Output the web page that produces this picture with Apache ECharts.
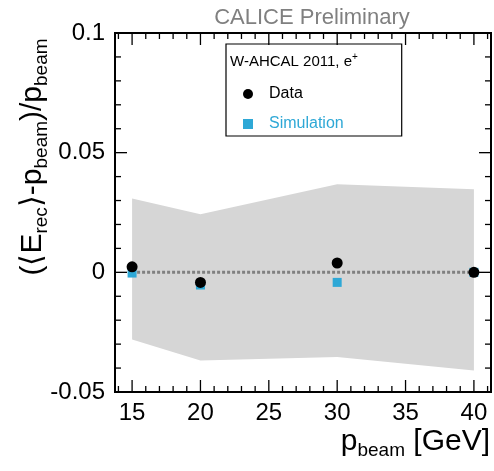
<!DOCTYPE html>
<html>
<head>
<meta charset="utf-8">
<script src="https://cdn.jsdelivr.net/npm/echarts@6/dist/echarts.min.js"></script>
<style>
html, body { margin: 0; padding: 0; background: #fff; }
#chart { width: 494px; height: 471px; }
</style>
</head>
<body>
<div id="chart"></div>
<script>
const beamMomenta = [15, 20, 30, 40];
const dataValues = [0.0023, -0.0042, 0.0039, 0.0];
const simValues = [-0.0003, -0.0053, -0.0042, 0.0];
const bandUpper = [0.0308, 0.0243, 0.0368, 0.0347];
const bandLower = [-0.0281, -0.0368, -0.0354, -0.0410];
const xRange = [13.75, 41.25];
const yRange = [-0.05, 0.1];
const xMajorTicks = [15, 20, 25, 30, 35, 40];
const xMinorTicks = [14, 16, 17, 18, 19, 21, 22, 23, 24, 26, 27, 28, 29, 31, 32, 33, 34, 36, 37, 38, 39, 41];
const yMajorTicks = [-0.05, 0, 0.05, 0.1];
const yMinorTicks = [-0.04, -0.03, -0.02, -0.01, 0.01, 0.02, 0.03, 0.04, 0.06, 0.07, 0.08, 0.09];

const FONT = "Liberation Sans";
const SIM_COLOR = "#2ea8d6";

const chart = echarts.init(document.getElementById("chart"));

// inward ticks on all four sides of the frame, placed through the axis scales
function renderTicks(params, api) {
	if (params.dataIndex !== 0) return null;
	const lines = [];
	const tick = (x1, y1, x2, y2) => lines.push({
		type: "line",
		shape: { x1: x1, y1: y1, x2: x2, y2: y2 },
		style: { stroke: "#000", lineWidth: 1.3 }
	});
	const xTicks = (values, len) => values.forEach(v => {
		const b = api.coord([v, yRange[0]]);
		const t = api.coord([v, yRange[1]]);
		tick(b[0], b[1], b[0], b[1] - len);
		tick(t[0], t[1], t[0], t[1] + len);
	});
	const yTicks = (values, len) => values.forEach(v => {
		const l = api.coord([xRange[0], v]);
		const r = api.coord([xRange[1], v]);
		tick(l[0], l[1], l[0] + len, l[1]);
		tick(r[0], r[1], r[0] - len, r[1]);
	});
	xTicks(xMajorTicks, 12);
	xTicks(xMinorTicks, 6);
	yTicks(yMajorTicks, 12);
	yTicks(yMinorTicks, 6);
	return { type: "group", children: lines };
}

const option = {
	animation: false,
	textStyle: { fontFamily: FONT },
	title: {
		text: "CALICE Preliminary",
		left: 307,
		top: 2,
		textAlign: "center",
		textStyle: { fontFamily: FONT, fontSize: 22, fontWeight: "normal", color: "#808080" }
	},
	grid: {
		left: 115, top: 33, width: 376, height: 359,
		show: true,
		borderColor: "#000",
		borderWidth: 2,
		backgroundColor: "transparent",
		z: 10
	},
	legend: {
		orient: "vertical",
		left: 226,
		top: 44,
		padding: [41, 58, 3, 17],
		itemWidth: 10,
		itemHeight: 10,
		itemGap: 12,
		backgroundColor: "#fff",
		borderColor: "#000",
		borderWidth: 1.2,
		textStyle: { fontFamily: FONT, fontSize: 16, lineHeight: 18, color: "#000", padding: [0, 0, 0, 11] },
		data: [
			{ name: "Data", icon: "circle", itemStyle: { color: "#000", opacity: 1 } },
			{ name: "Simulation", icon: "rect", itemStyle: { color: SIM_COLOR, opacity: 1 }, textStyle: { color: SIM_COLOR } }
		]
	},
	xAxis: {
		type: "value",
		min: xRange[0],
		max: xRange[1],
		splitLine: { show: false },
		axisLine: { show: true, onZero: false, lineStyle: { color: "#000", width: 2 } },
		axisTick: { show: false },
		axisLabel: { customValues: xMajorTicks, fontSize: 24, color: "#000", margin: 9, fontFamily: FONT }
	},
	yAxis: {
		type: "value",
		min: yRange[0],
		max: yRange[1],
		interval: 0.05,
		splitLine: { show: false },
		axisLine: { show: true, onZero: false, lineStyle: { color: "#000", width: 2 } },
		axisTick: { show: false },
		axisLabel: { fontSize: 24, color: "#000", margin: 10, fontFamily: FONT }
	},
	series: [
		{
			name: "Uncertainty",
			type: "custom",
			silent: true,
			z: 1,
			encode: { x: 0, y: [1, 2] },
			data: beamMomenta.map((x, i) => [x, bandLower[i], bandUpper[i]]),
			renderItem: (params, api) => {
				if (params.dataIndex !== 0) return null;
				const upper = beamMomenta.map((x, i) => api.coord([x, bandUpper[i]]));
				const lower = beamMomenta.map((x, i) => api.coord([x, bandLower[i]])).reverse();
				return {
					type: "polygon",
					shape: { points: upper.concat(lower) },
					style: { fill: "#d6d6d6" }
				};
			}
		},
		{
			name: "Zero",
			type: "line",
			silent: true,
			z: 2,
			symbol: "none",
			data: [[beamMomenta[0], 0], [beamMomenta[beamMomenta.length - 1], 0]],
			lineStyle: { color: "#808080", width: 3, type: [3, 2] }
		},
		{
			name: "Simulation",
			type: "scatter",
			z: 3,
			symbol: "rect",
			symbolSize: 9,
			itemStyle: { color: SIM_COLOR, opacity: 1 },
			data: beamMomenta.map((x, i) => [x, simValues[i]])
		},
		{
			name: "Data",
			type: "scatter",
			z: 4,
			symbol: "circle",
			symbolSize: 11,
			itemStyle: { color: "#000", opacity: 1 },
			data: beamMomenta.map((x, i) => [x, dataValues[i]])
		},
		{
			name: "Ticks",
			type: "custom",
			silent: true,
			clip: false,
			z: 6,
			data: [[xMajorTicks[0], 0]],
			renderItem: renderTicks
		}
	],
	graphic: [
		{
			type: "text",
			x: 230,
			y: 62,
			z: 100,
			style: {
				text: "{m|W-AHCAL 2011, e}{s|+}",
				verticalAlign: "middle",
				rich: {
					m: { fontFamily: FONT, fontSize: 15, fill: "#000" },
					s: { fontFamily: FONT, fontSize: 10, fill: "#000", padding: [0, 0, 10, 0] }
				}
			}
		},
		{
			type: "text",
			x: 33,
			y: 157,
			rotation: Math.PI / 2,
			style: {
				text: "{m|(⟨E}{s|rec}{m|⟩-p}{s|beam}{m|)/p}{s|beam}",
				align: "center",
				verticalAlign: "middle",
				rich: {
					m: { fontFamily: FONT, fontSize: 30, fill: "#000" },
					s: { fontFamily: FONT, fontSize: 19, fill: "#000", padding: [18, 0, 0, 0] }
				}
			}
		},
		{
			type: "text",
			x: 490,
			y: 442,
			style: {
				text: "{m|p}{s|beam}{m| [GeV]}",
				align: "right",
				verticalAlign: "middle",
				rich: {
					m: { fontFamily: FONT, fontSize: 30, fill: "#000" },
					s: { fontFamily: FONT, fontSize: 19, fill: "#000", padding: [18, 0, 0, 0] }
				}
			}
		}
	]
};

chart.setOption(option);
</script>
</body>
</html>
